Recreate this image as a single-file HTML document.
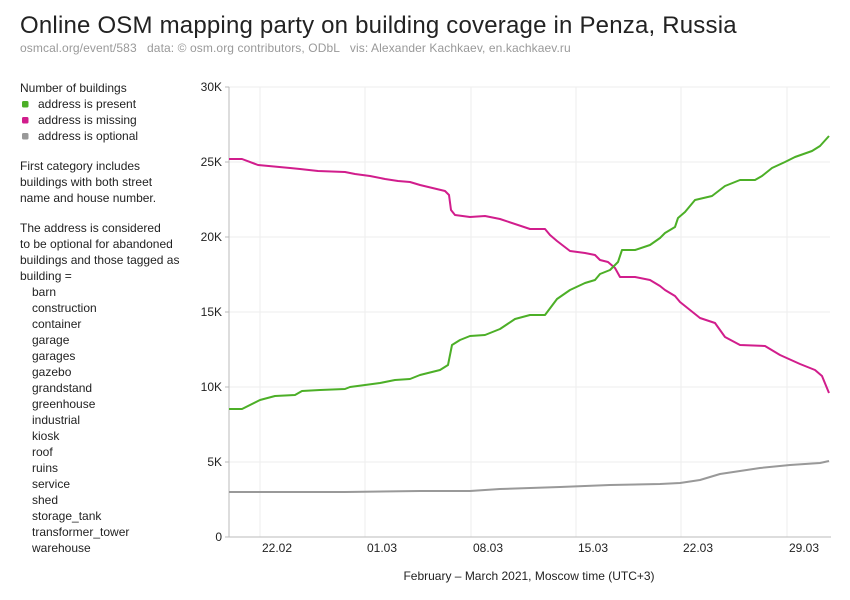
<!DOCTYPE html>
<html><head><meta charset="utf-8"><style>
body{margin:0;background:#fff;}
svg{display:block;font-family:"Liberation Sans",sans-serif;}
</style></head><body>
<svg width="850" height="600" xmlns="http://www.w3.org/2000/svg">
<text x="20" y="33" font-size="24" fill="#222" letter-spacing="0.2">Online OSM mapping party on building coverage in Penza, Russia</text>
<text x="20" y="52" font-size="12" fill="#999" xml:space="preserve" letter-spacing="0.1">osmcal.org/event/583   data: © osm.org contributors, ODbL   vis: Alexander Kachkaev, en.kachkaev.ru</text>
<g font-size="12" fill="#222">
<text x="20" y="92">Number of buildings</text>
<rect x="22" y="101" width="6.5" height="6.5" rx="1.5" fill="#4caf27"/><text x="38" y="108">address is present</text>
<rect x="22" y="117" width="6.5" height="6.5" rx="1.5" fill="#d11d8c"/><text x="38" y="124">address is missing</text>
<rect x="22" y="133" width="6.5" height="6.5" rx="1.5" fill="#999"/><text x="38" y="140">address is optional</text>
<text x="20" y="170">First category includes</text>
<text x="20" y="186">buildings with both street</text>
<text x="20" y="202">name and house number.</text>
<text x="20" y="232">The address is considered</text>
<text x="20" y="248">to be optional for abandoned</text>
<text x="20" y="264">buildings and those tagged as</text>
<text x="20" y="280">building =</text>
<text x="32" y="296">barn</text><text x="32" y="312">construction</text><text x="32" y="328">container</text>
<text x="32" y="344">garage</text><text x="32" y="360">garages</text><text x="32" y="376">gazebo</text>
<text x="32" y="392">grandstand</text><text x="32" y="408">greenhouse</text><text x="32" y="424">industrial</text>
<text x="32" y="440">kiosk</text><text x="32" y="456">roof</text><text x="32" y="472">ruins</text>
<text x="32" y="488">service</text><text x="32" y="504">shed</text><text x="32" y="520">storage_tank</text>
<text x="32" y="536">transformer_tower</text><text x="32" y="552">warehouse</text>
</g>
<g stroke="#eee" stroke-width="1">
<line x1="229" y1="87" x2="830" y2="87"/><line x1="229" y1="162" x2="830" y2="162"/>
<line x1="229" y1="237" x2="830" y2="237"/><line x1="229" y1="312" x2="830" y2="312"/>
<line x1="229" y1="387" x2="830" y2="387"/><line x1="229" y1="462" x2="830" y2="462"/>
<line x1="260" y1="87" x2="260" y2="537"/><line x1="365" y1="87" x2="365" y2="537"/>
<line x1="471" y1="87" x2="471" y2="537"/><line x1="576" y1="87" x2="576" y2="537"/>
<line x1="681" y1="87" x2="681" y2="537"/><line x1="787" y1="87" x2="787" y2="537"/>
</g>
<g stroke="#bbb"><line x1="229" y1="87" x2="229" y2="537"/><line x1="229" y1="537" x2="831" y2="537"/>
<line x1="225" y1="87" x2="229" y2="87"/><line x1="225" y1="162" x2="229" y2="162"/><line x1="225" y1="237" x2="229" y2="237"/><line x1="225" y1="312" x2="229" y2="312"/><line x1="225" y1="387" x2="229" y2="387"/><line x1="225" y1="462" x2="229" y2="462"/><line x1="225" y1="537" x2="229" y2="537"/>
</g>
<g font-size="12" fill="#222" text-anchor="end">
<text x="222" y="91">30K</text><text x="222" y="166">25K</text><text x="222" y="241">20K</text><text x="222" y="316">15K</text><text x="222" y="391">10K</text><text x="222" y="466">5K</text><text x="222" y="541">0</text>
</g>
<g font-size="12" fill="#222">
<text x="262" y="552">22.02</text><text x="367" y="552">01.03</text><text x="473" y="552">08.03</text><text x="578" y="552">15.03</text><text x="683" y="552">22.03</text><text x="789" y="552">29.03</text>
<text x="529" y="580" text-anchor="middle">February – March 2021, Moscow time (UTC+3)</text>
</g>
<g fill="none" stroke-width="2" stroke-linejoin="round">
<polyline stroke="#999" points="229,492 345,492 420,491 470,491 500,489 560,487 610,485 660,484 680,483 700,480 720,474 740,471 760,468 790,465 820,463 829,461"/>
<polyline stroke="#d11d8c" points="229,159 242,159 258,165 290,168 300,169 318,171 345,172 355,174 370,176 385,179 398,181 410,182 420,185 445,191 449,195 451,210 455,215 470,217 485,216 500,219 530,229 545,229 550,235 557,241 570,251 585,253 595,255 600,260 608,262 615,268 620,277 635,277 650,280 660,286 665,290 675,296 680,302 700,318 715,323 725,337 740,345 765,346 780,355 800,364 815,370 822,376 829,393"/>
<polyline stroke="#4caf27" points="229,409 242,409 260,400 275,396 295,395 302,391 320,390 345,389 350,387 365,385 380,383 395,380 410,379 420,375 440,370 448,365 452,345 460,340 470,336 485,335 500,329 515,319 530,315 545,315 557,299 570,290 585,283 595,280 600,274 610,270 618,262 622,250 635,250 650,245 660,238 665,233 675,227 678,218 685,212 695,200 712,196 725,186 740,180 755,180 762,176 772,168 785,162 795,157 812,151 820,146 829,136"/>
</g>
</svg>
</body></html>
